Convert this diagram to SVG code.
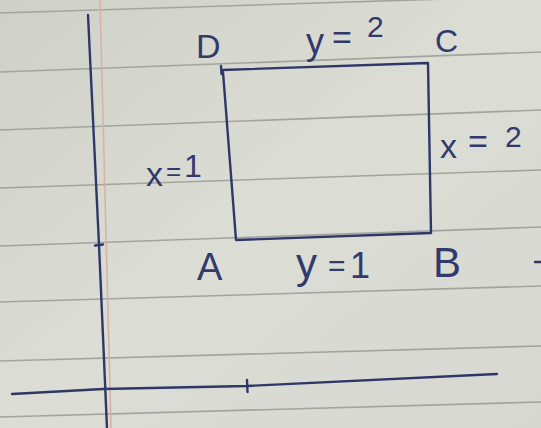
<svg xmlns="http://www.w3.org/2000/svg" width="541" height="428" viewBox="0 0 541 428">
  <defs>
    <style>
      .rule { stroke: #a2a49f; stroke-width: 1.6; fill: none; }
      .margin { stroke: #d9b2a6; stroke-width: 1.6; fill: none; }
      .ink { stroke: #2f3768; stroke-width: 2.4; fill: none; stroke-linecap: round; stroke-linejoin: round; }
      .lbl { fill: #323a6d; font-family: "Liberation Sans", "DejaVu Sans", sans-serif; }
    </style>
    <linearGradient id="paper" x1="0" y1="0" x2="1" y2="1">
      <stop offset="0" stop-color="#cfd1c9"/>
      <stop offset="0.5" stop-color="#dcddd5"/>
      <stop offset="1" stop-color="#d6d8d1"/>
    </linearGradient>
  </defs>

  <!-- paper -->
  <g id="paper-sheet">
    <rect x="0" y="0" width="541" height="428" fill="url(#paper)"/>
    <line class="rule" x1="0" y1="13" x2="541" y2="-4"/>
    <line class="rule" x1="0" y1="72" x2="541" y2="52"/>
    <line class="rule" x1="0" y1="130" x2="541" y2="110"/>
    <line class="rule" x1="0" y1="188" x2="541" y2="170"/>
    <line class="rule" x1="0" y1="246" x2="541" y2="227"/>
    <line class="rule" x1="0" y1="302" x2="541" y2="286"/>
    <line class="rule" x1="0" y1="361" x2="541" y2="346"/>
    <line class="rule" x1="0" y1="417" x2="541" y2="402"/>
    <line class="margin" x1="100" y1="0" x2="111" y2="428"/>
  </g>

  <!-- connectors: axes and rectangle sides -->
  <g id="connectors">
    <path class="ink" d="M88 15 L99 245 L107 428" stroke-width="2.4"/>
    <path class="ink" d="M95 245.5 L103 244.5" stroke-width="3"/>
    <path class="ink" d="M12 394 L103 389 L247 386 L497 374" stroke-width="2.3"/>
    <path class="ink" d="M247 380 L247.5 392"/>
    <path class="ink" d="M222 70 L428 63 L431 233 L236 240 L223 72" stroke-width="2.8"/>
    <path class="ink" d="M221 66 L221.5 74"/>
    <path class="ink" d="M535 262 L541 262"/>
  </g>

  <!-- corner nodes -->
  <g id="node-D"><text class="lbl" x="196" y="58" font-size="34">D</text></g>
  <g id="node-C"><text class="lbl" x="435" y="52" font-size="32">C</text></g>
  <g id="node-A"><text class="lbl" x="197" y="280" font-size="38">A</text></g>
  <g id="node-B"><text class="lbl" x="433" y="277" font-size="42">B</text></g>

  <!-- side labels -->
  <g id="label-y2"><text class="lbl"><tspan x="306" y="54" font-size="36">y</tspan><tspan x="332" y="49" font-size="34">=</tspan><tspan x="367" y="37" font-size="30">2</tspan></text></g>
  <g id="label-x1"><text class="lbl"><tspan x="146" y="186" font-size="34">x</tspan><tspan x="166" y="180" font-size="26">=</tspan><tspan x="184" y="177" font-size="32">1</tspan></text></g>
  <g id="label-x2"><text class="lbl"><tspan x="440" y="158" font-size="34">x</tspan><tspan x="468" y="153" font-size="34">=</tspan><tspan x="505" y="147" font-size="30">2</tspan></text></g>
  <g id="label-y1"><text class="lbl"><tspan x="296" y="278" font-size="42">y</tspan><tspan x="328" y="276" font-size="30">=</tspan><tspan x="350" y="278" font-size="36">1</tspan></text></g>
</svg>
